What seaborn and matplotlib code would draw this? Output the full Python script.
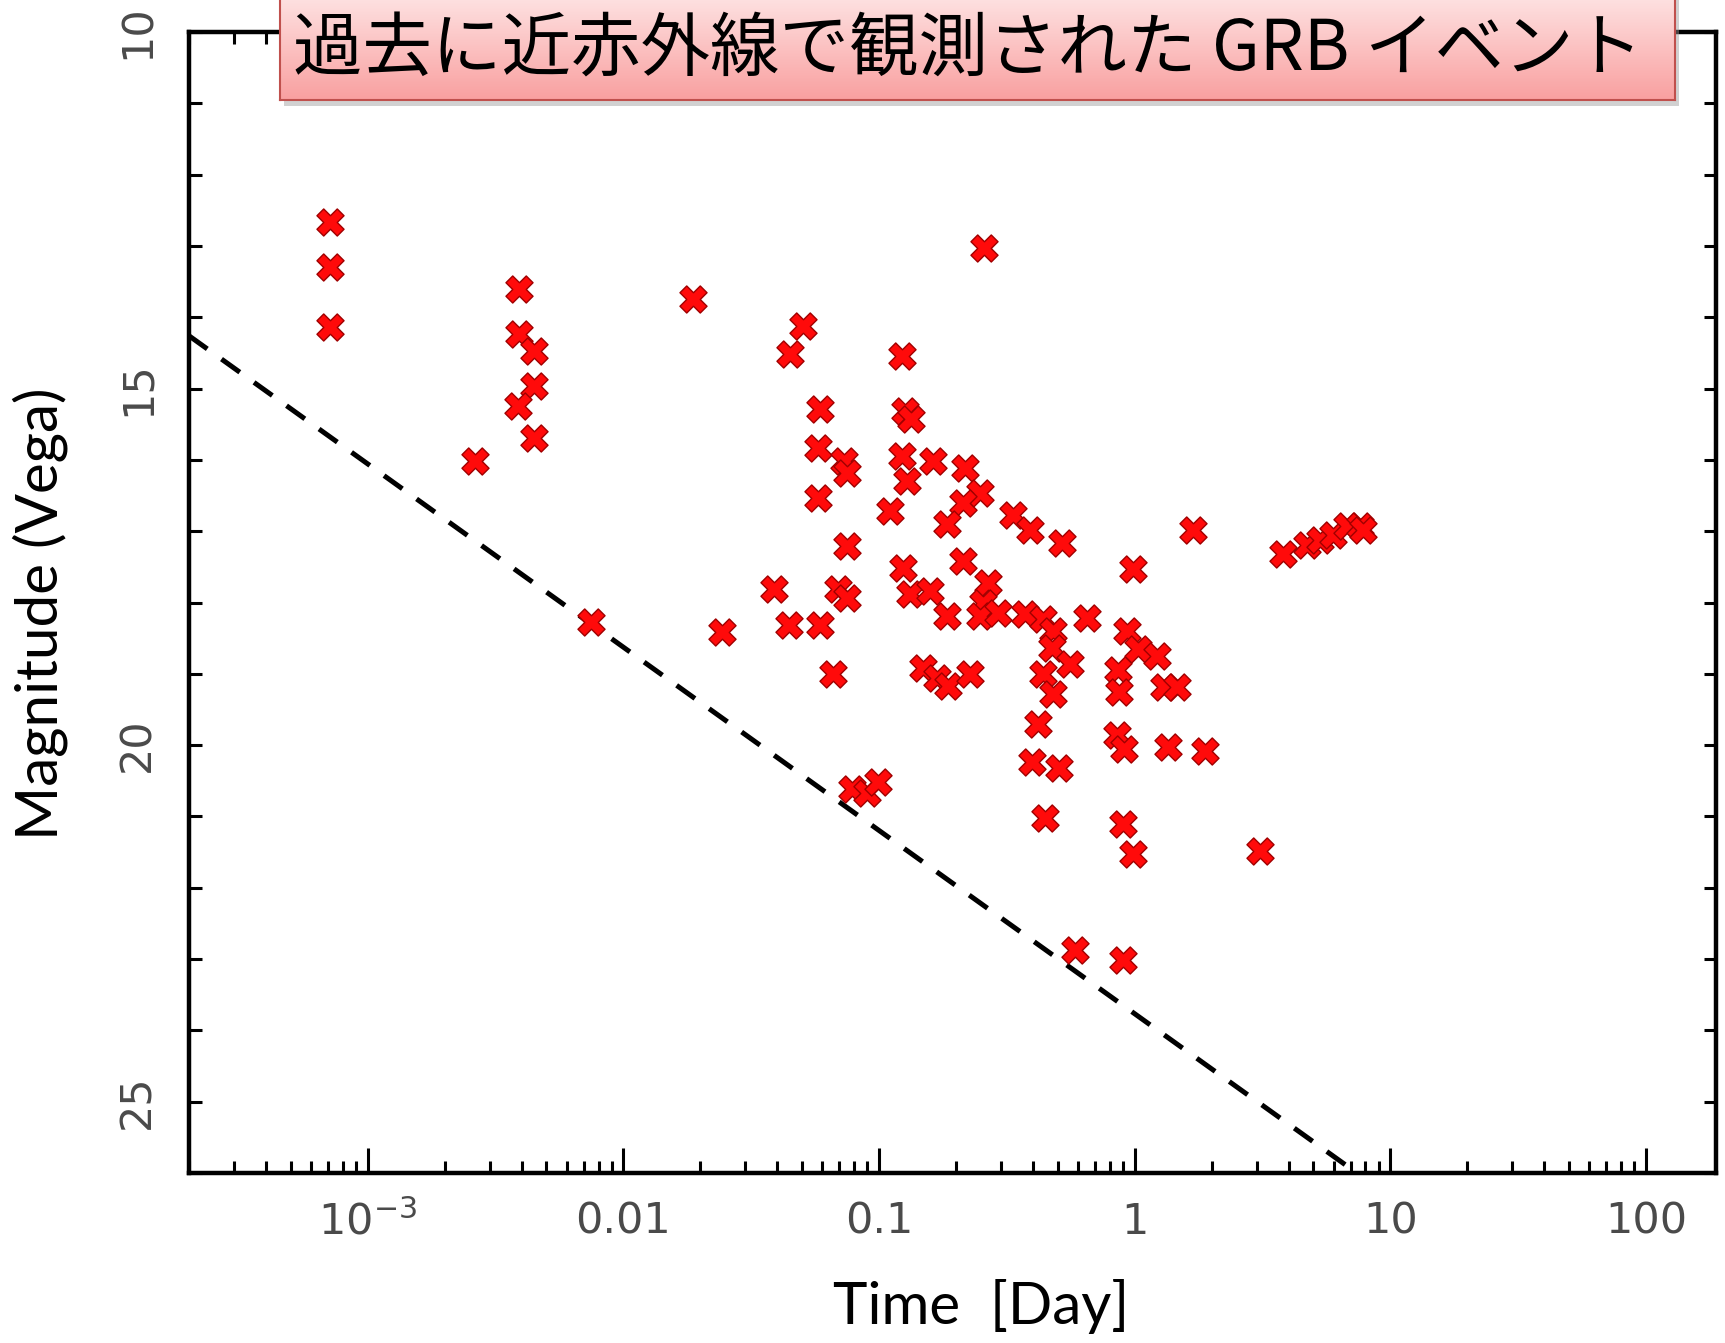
import numpy as np
import pandas as pd
import matplotlib
matplotlib.use('Agg')
import matplotlib.pyplot as plt
import matplotlib.ticker as mticker
from matplotlib.patches import Rectangle
import seaborn as sns

# GRB afterglows seen in the near infrared
time_day = [7.1e-4, 7.1e-4, 7.1e-4,
            0.0039, 0.0039, 0.00446, 0.00446, 0.00386, 0.00446,
            0.00262, 0.00745, 0.0187, 0.0243,
            0.0387, 0.0444, 0.0586, 0.0659,
            0.0783, 0.0896, 0.0989,
            0.0504, 0.0448,
            0.1227, 0.0586, 0.126, 0.134,
            0.0575, 0.0728, 0.0748,
            0.1227, 0.1285, 0.162, 0.217, 0.248,
            0.213, 0.184, 0.0575, 0.110,
            0.333, 0.389, 0.519, 1.69,
            0.0748, 0.213, 0.124, 0.984,
            0.069, 0.0748, 0.132, 0.158, 0.184,
            0.267, 0.255, 0.248, 0.292,
            0.372, 0.437, 0.479, 0.474, 0.558, 0.65,
            0.148, 0.168, 0.186, 0.226,
            0.437, 0.479, 0.418,
            0.93, 1.03, 1.22,
            0.86, 0.87, 1.30, 1.46,
            0.85, 0.91, 1.35, 1.88,
            0.396, 0.505, 0.446,
            0.90, 0.984, 3.09, 0.583, 0.90,
            0.258,
            3.80, 4.72, 5.31, 5.96, 6.76, 7.60, 7.82]
magnitude = [12.67, 13.29, 14.14,
             13.60, 14.23, 14.47, 14.96, 15.25, 15.70,
             16.01, 18.27, 13.75, 18.41,
             17.81, 18.31, 18.31, 19.0,
             20.62, 20.67, 20.52,
             14.12, 14.51,
             14.54, 15.28, 15.31, 15.42,
             15.84, 16.01, 16.19,
             15.94, 16.29, 16.01, 16.12, 16.46,
             16.60, 16.90, 16.54, 16.71,
             16.78, 16.99, 17.16, 16.99,
             17.21, 17.42, 17.51, 17.53,
             17.81, 17.94, 17.88, 17.84, 18.19,
             17.72, 18.0, 18.19, 18.15,
             18.16, 18.23, 18.40, 18.64, 18.86, 18.22,
             18.92, 19.06, 19.17, 19.0,
             19.0, 19.28, 19.7,
             18.4, 18.65, 18.75,
             18.95, 19.25, 19.18, 19.18,
             19.86, 20.06, 20.03, 20.08,
             20.24, 20.32, 21.02,
             21.10, 21.52, 21.49, 22.87, 23.02,
             13.03,
             17.32, 17.20, 17.13, 17.05, 16.93, 16.93, 16.98]

# dashed limit line
limit_time = [2e-4, 7.4]
limit_mag = [14.26, 26.0]

x_ticks = [1e-3, 1e-2, 1e-1, 1, 10, 100]
x_tick_labels = [r'$\mathregular{10^{-3}}$', '0.01', '0.1', '1', '10', '100']
y_ticks = [10, 15, 20, 25]

title_text = '過去に近赤外線で観測された GRB イベント'

sns.set_style('ticks')
plt.rcParams['font.family'] = ['Liberation Sans Narrow', 'DejaVu Sans']
plt.rcParams['mathtext.fontset'] = 'custom'
plt.rcParams['mathtext.rm'] = 'Liberation Sans Narrow'

W, H = 1725, 1343
fig = plt.figure(figsize=(W / 100, H / 100), dpi=100)
ax = fig.add_axes([189 / W, 1 - 1173 / H, (1716 - 189) / W, (1173 - 32) / H])

df = pd.DataFrame({'Time': time_day, 'Mag': magnitude})

sns.lineplot(x=limit_time, y=limit_mag, ax=ax, color='black', linewidth=3.6,
             linestyle=(0, (4.5, 3.5)), zorder=2)
sns.scatterplot(data=df, x='Time', y='Mag', marker='X', s=380, color='#ff0a0a',
                edgecolor='#a00000', linewidth=1.0, ax=ax, zorder=3)

ax.set_xscale('log')
ax.set_xlim(2e-4, 188)
ax.set_ylim(26, 10)

ax.xaxis.set_major_locator(mticker.FixedLocator(x_ticks))
ax.set_xticklabels(x_tick_labels)
ax.xaxis.set_minor_locator(mticker.LogLocator(base=10, subs=range(2, 10), numticks=30))
ax.xaxis.set_minor_formatter(mticker.NullFormatter())
ax.set_yticks(y_ticks)
ax.yaxis.set_minor_locator(mticker.MultipleLocator(1))

ax.tick_params(which='both', direction='in', top=True, right=True, width=2.2,
               color='black', labelcolor='#4a4a4a', labelsize=31)
ax.tick_params(axis='x', which='major', length=18, pad=20)
ax.tick_params(axis='x', which='minor', length=8.5)
ax.tick_params(axis='y', which='both', length=9, pad=22)
for lab in ax.get_yticklabels():
    lab.set_rotation(90)
    lab.set_va('center')

for sp in ax.spines.values():
    sp.set_linewidth(3.2)
    sp.set_color('black')

ax.set_xlabel('Time  [Day]', fontsize=42, family='Lato', color='black')
ax.set_ylabel('Magnitude (Vega)', fontsize=42, family='Lato', color='black')
ax.xaxis.set_label_coords(0.519, -0.093)
ax.yaxis.set_label_coords(-0.079, 0.49)

# title box with pink gradient
fig.add_artist(Rectangle((284 / W, 1 - 106 / H), 1395 / W, 110 / H,
                         transform=fig.transFigure, color='#9a9a9a', alpha=0.45,
                         zorder=4, linewidth=0))
box_ax = fig.add_axes([280 / W, 1 - 100 / H, 1395 / W, 110 / H], zorder=5)
top_c = np.array([254, 230, 230]) / 255
bot_c = np.array([249, 160, 160]) / 255
g = np.linspace(0, 1, 100)[:, None, None]
grad = top_c * (1 - g) + bot_c * g
box_ax.imshow(grad, aspect='auto', extent=[0, 1, 0, 1], origin='upper')
box_ax.set_xticks([])
box_ax.set_yticks([])
for sp in box_ax.spines.values():
    sp.set_color('#c0504d')
    sp.set_linewidth(1.5)
box_ax.text(0.493, 0.45, title_text, ha='center', va='center', fontsize=50,
            family=['Noto Sans CJK JP', 'DejaVu Sans'], color='black',
            transform=box_ax.transAxes)

fig.savefig('out.png', dpi=100)
